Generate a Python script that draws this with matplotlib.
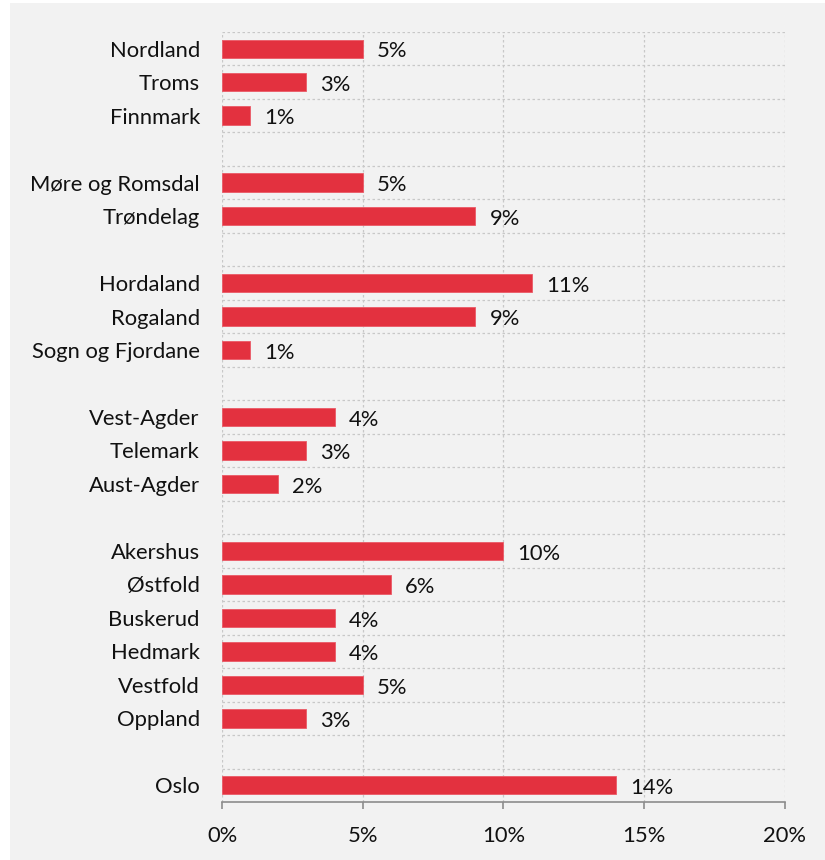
import matplotlib.pyplot as plt
from matplotlib.patches import Rectangle
from matplotlib.ticker import FuncFormatter

plt.rcParams['font.family'] = ['Lato', 'DejaVu Sans']

# fylker, top to bottom; None = empty row between regions
fylker = ['Nordland', 'Troms', 'Finnmark', None,
          'Møre og Romsdal', 'Trøndelag', None,
          'Hordaland', 'Rogaland', 'Sogn og Fjordane', None,
          'Vest-Agder', 'Telemark', 'Aust-Agder', None,
          'Akershus', 'Østfold', 'Buskerud', 'Hedmark', 'Vestfold', 'Oppland', None,
          'Oslo']
andel = [5, 3, 1, None,
         5, 9, None,
         11, 9, 1, None,
         4, 3, 2, None,
         10, 6, 4, 4, 5, 3, None,
         14]
xticks = [0, 5, 10, 15, 20]

bg = '#f2f2f2'
red = '#e3313f'
fs = 15.8

fig = plt.figure(figsize=(8.25, 8.6), dpi=100, facecolor='white')
fig.patches.append(Rectangle((10 / 825, 0), 1, 857 / 860, transform=fig.transFigure,
                             facecolor=bg, edgecolor='none', zorder=-1))
ax = fig.add_axes([222 / 825, 1 - 802 / 860, 563 / 825, 770 / 860])
ax.set_facecolor(bg)

n = len(fylker)
for i, (name, v) in enumerate(zip(fylker, andel)):
    if v is None:
        continue
    ax.barh(i, v, height=0.55, color=red, edgecolor='#ea5a66', linewidth=0.6, zorder=3)
    ax.text(v + 0.5, i + 0.08, f'{v}%', va='center', ha='left', fontsize=fs, color='#111111')

ax.set_ylim(n - 0.5, -0.5)
ax.set_xlim(0, 20)
ax.set_yticks(range(n))
ax.set_yticklabels([f if f else '' for f in fylker], fontsize=fs, color='#111111')
ax.tick_params(axis='y', length=0, pad=16)

ax.set_xticks(xticks)
ax.xaxis.set_major_formatter(FuncFormatter(lambda x, p: f'{x:.0f}%'))
ax.tick_params(axis='x', length=5, width=1.2, color='#8c8c8c', labelsize=fs,
               labelcolor='#111111', pad=12)

# dotted grid: vertical at ticks, horizontal at row borders
for x in xticks:
    ax.axvline(x, color='#c8c8c8', linestyle=(0, (2, 2)), linewidth=0.9, zorder=1)
for b in range(n):
    ax.axhline(b - 0.5, color='#c8c8c8', linestyle=(0, (2, 2)), linewidth=0.9, zorder=1)

for s in ['top', 'right', 'left']:
    ax.spines[s].set_visible(False)
ax.spines['bottom'].set_color('#8c8c8c')
ax.spines['bottom'].set_linewidth(1.2)
ax.spines['bottom'].set_zorder(4)

fig.savefig('out.png', dpi=100, facecolor=fig.get_facecolor())
